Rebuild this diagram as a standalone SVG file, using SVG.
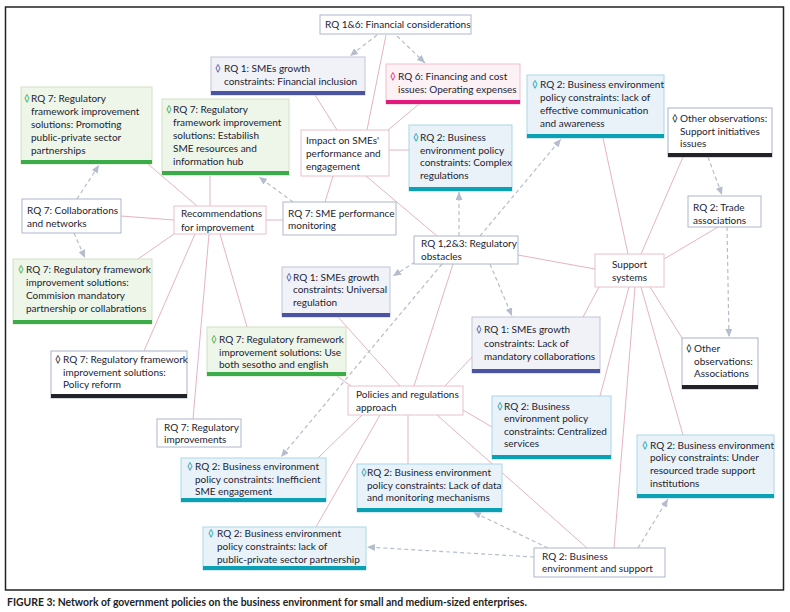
<svg xmlns="http://www.w3.org/2000/svg" width="790" height="612" viewBox="0 0 790 612">
<defs>
<marker id="ah" markerWidth="8" markerHeight="7" refX="8" refY="3.5" orient="auto" markerUnits="userSpaceOnUse"><path d="M0,0 L8,3.5 L0,7 z" fill="#b4bccd"/></marker>
<style>
text{font-family:Lato,"Liberation Sans",sans-serif;font-size:10px;fill:#1c1d33}
.cap{font-size:10.4px;font-weight:bold;fill:#222}
.plain{fill:#fff;stroke:#aeb6cc;stroke-width:1}
.pink{fill:#fff;stroke:#e9c0ce;stroke-width:1}
.rq1{fill:#f1f2f7;stroke:#c0c6dc;stroke-width:1}
.rq7{fill:#eef5e9;stroke:#cfe2c8;stroke-width:1}
.rq2{fill:#e8f2f8;stroke:#aad8ea;stroke-width:1}
.rq6{fill:#fcf1f5;stroke:#efbfd0;stroke-width:1}
.obs{fill:#fff;stroke:#aab2c6;stroke-width:1}
.b1{fill:#4b53a3}.b7{fill:#3aac48}.b2{fill:#0ba1b5}.b6{fill:#e3197b}.bo{fill:#222228}
.d1{fill:#4b53a3}.d7{fill:#3aac48}.d2{fill:#0ba1b5}.d6{fill:#e3197b}.do{fill:#222228}
.sl{stroke:#e6b3c3;stroke-width:1;fill:none}
.dl{stroke:#b5bdcd;stroke-width:1.2;stroke-dasharray:4 3;fill:none;marker-end:url(#ah)}
</style>
</defs>
<rect x="5.5" y="7" width="778" height="583" fill="#fff" stroke="#222" stroke-width="1.5"/>
<g id="connectors">
<line class="sl" x1="386" y1="35" x2="367" y2="130"/>
<line class="sl" x1="315" y1="95" x2="337" y2="130"/>
<line class="sl" x1="419" y1="104" x2="388" y2="130"/>
<line class="sl" x1="389" y1="150" x2="409" y2="150"/>
<line class="sl" x1="333" y1="176" x2="325" y2="202"/>
<line class="sl" x1="366" y1="176" x2="437" y2="236"/>
<line class="sl" x1="266" y1="220" x2="283" y2="220"/>
<line class="sl" x1="148" y1="164" x2="197" y2="206"/>
<line class="sl" x1="210" y1="175" x2="210" y2="206"/>
<line class="sl" x1="121" y1="216" x2="174" y2="220"/>
<line class="sl" x1="174" y1="234" x2="138" y2="259"/>
<line class="sl" x1="195" y1="234" x2="144" y2="351"/>
<line class="sl" x1="209" y1="234" x2="193" y2="419"/>
<line class="sl" x1="220" y1="234" x2="247" y2="327"/>
<line class="sl" x1="518" y1="255" x2="595" y2="269"/>
<line class="sl" x1="453" y1="264" x2="414" y2="386"/>
<line class="sl" x1="338" y1="317" x2="400" y2="386"/>
<line class="sl" x1="472" y1="357" x2="445" y2="386"/>
<line class="sl" x1="337" y1="376" x2="351" y2="386"/>
<line class="sl" x1="463" y1="410" x2="492" y2="427"/>
<line class="sl" x1="408" y1="415" x2="408" y2="464"/>
<line class="sl" x1="362" y1="415" x2="318" y2="458"/>
<line class="sl" x1="380" y1="415" x2="316" y2="527"/>
<line class="sl" x1="437" y1="415" x2="587" y2="548"/>
<line class="sl" x1="603" y1="138" x2="628" y2="254"/>
<line class="sl" x1="683" y1="157" x2="641" y2="254"/>
<line class="sl" x1="718" y1="227" x2="664" y2="259"/>
<line class="sl" x1="599" y1="287" x2="583" y2="317"/>
<line class="sl" x1="629" y1="287" x2="600" y2="396"/>
<line class="sl" x1="635" y1="287" x2="614" y2="548"/>
<line class="sl" x1="641" y1="287" x2="683" y2="435"/>
<line class="sl" x1="650" y1="287" x2="682" y2="338"/>
<line class="dl" x1="377" y1="35" x2="350" y2="56"/>
<line class="dl" x1="397" y1="36" x2="425" y2="63"/>
<line class="dl" x1="293" y1="202" x2="259" y2="177"/>
<line class="dl" x1="459" y1="236" x2="459" y2="192"/>
<line class="dl" x1="480" y1="236" x2="561" y2="139"/>
<line class="dl" x1="415" y1="262" x2="393" y2="276"/>
<line class="dl" x1="490" y1="264" x2="512" y2="316"/>
<line class="dl" x1="442" y1="264" x2="281" y2="457"/>
<line class="dl" x1="708" y1="157" x2="722" y2="195"/>
<line class="dl" x1="727" y1="227" x2="729" y2="337"/>
<line class="dl" x1="77" y1="199" x2="99" y2="165"/>
<line class="dl" x1="74" y1="233" x2="85" y2="258"/>
<line class="dl" x1="638" y1="548" x2="668" y2="499"/>
<line class="dl" x1="548" y1="548" x2="473" y2="512"/>
<line class="dl" x1="534" y1="557" x2="367" y2="547"/>
</g>
<g id="n-financial-considerations"><rect class="plain" x="320" y="15" width="151" height="19"/><text x="325" y="28">RQ 1&amp;6: Financial considerations</text></g>
<g id="n-rq1-financial-inclusion"><rect class="rq1" x="211" y="57" width="154" height="38"/><rect class="b1" x="211" y="91" width="154" height="4"/><text><tspan class="d1" x="215" y="72">◊</tspan><tspan x="224" y="72">RQ 1: SMEs growth</tspan><tspan x="224" y="85">constraints: Financial inclusion</tspan></text></g>
<g id="n-rq6-operating-expenses"><rect class="rq6" x="386" y="64" width="134" height="40"/><rect class="b6" x="386" y="100" width="134" height="4"/><text><tspan class="d6" x="390" y="80">◊</tspan><tspan x="398" y="80">RQ 6: Financing and cost</tspan><tspan x="398" y="93">issues: Operating expenses</tspan></text></g>
<g id="n-rq2-communication"><rect class="rq2" x="527" y="75" width="137" height="63"/><rect class="b2" x="527" y="134" width="137" height="4"/><text><tspan class="d2" x="532" y="88">◊</tspan><tspan x="540" y="88">RQ 2: Business environment</tspan><tspan x="540" y="101">policy constraints: lack of</tspan><tspan x="540" y="114">effective communication</tspan><tspan x="540" y="127">and awareness</tspan></text></g>
<g id="n-obs-support-initiatives"><rect class="obs" x="668" y="108" width="104" height="49"/><rect class="bo" x="668" y="153" width="104" height="4"/><text><tspan class="do" x="672" y="122">◊</tspan><tspan x="680" y="122">Other observations:</tspan><tspan x="680" y="135">Support initiatives</tspan><tspan x="680" y="147">issues</tspan></text></g>
<g id="n-rq7-promoting"><rect class="rq7" x="21" y="87" width="131" height="77"/><rect class="b7" x="21" y="160" width="131" height="4"/><text><tspan class="d7" x="24" y="102">◊</tspan><tspan x="31" y="102">RQ 7: Regulatory</tspan><tspan x="31" y="115">framework improvement</tspan><tspan x="31" y="128">solutions: Promoting</tspan><tspan x="31" y="141">public-private sector</tspan><tspan x="31" y="154">partnerships</tspan></text></g>
<g id="n-rq7-establish"><rect class="rq7" x="162" y="99" width="127" height="76"/><rect class="b7" x="162" y="171" width="127" height="4"/><text><tspan class="d7" x="166" y="113">◊</tspan><tspan x="173" y="113">RQ 7: Regulatory</tspan><tspan x="173" y="126">framework improvement</tspan><tspan x="173" y="139">solutions: Estabilish</tspan><tspan x="173" y="152">SME resources and</tspan><tspan x="173" y="165">information hub</tspan></text></g>
<g id="n-impact"><rect class="pink" x="301" y="130" width="88" height="46"/><text><tspan x="306" y="144">Impact on SMEs'</tspan><tspan x="306" y="157">performance and</tspan><tspan x="306" y="170">engagement</tspan></text></g>
<g id="n-rq2-complex"><rect class="rq2" x="409" y="125" width="103" height="66"/><rect class="b2" x="409" y="187" width="103" height="4"/><text><tspan class="d2" x="413" y="141">◊</tspan><tspan x="420" y="141">RQ 2: Business</tspan><tspan x="420" y="154">environment policy</tspan><tspan x="420" y="166">constraints: Complex</tspan><tspan x="420" y="179">regulations</tspan></text></g>
<g id="n-collaborations"><rect class="plain" x="22" y="199" width="99" height="34"/><text><tspan x="27" y="214">RQ 7: Collaborations</tspan><tspan x="27" y="227">and networks</tspan></text></g>
<g id="n-recommendations"><rect class="pink" x="174" y="206" width="92" height="28"/><text><tspan x="181" y="217">Recommendations</tspan><tspan x="181" y="231">for improvement</tspan></text></g>
<g id="n-performance-monitoring"><rect class="plain" x="283" y="202" width="113" height="33"/><text><tspan x="288" y="217">RQ 7: SME performance</tspan><tspan x="288" y="229">monitoring</tspan></text></g>
<g id="n-regulatory-obstacles"><rect class="plain" x="414" y="236" width="104" height="28"/><text><tspan x="421" y="247">RQ 1,2&amp;3: Regulatory</tspan><tspan x="421" y="260">obstacles</tspan></text></g>
<g id="n-trade-associations"><rect class="plain" x="688" y="196" width="73" height="31"/><text><tspan x="693" y="211">RQ 2: Trade</tspan><tspan x="693" y="224">associations</tspan></text></g>
<g id="n-support-systems"><rect class="pink" x="595" y="254" width="69" height="33"/><text text-anchor="middle"><tspan x="629.5" y="268">Support</tspan><tspan x="629.5" y="281">systems</tspan></text></g>
<g id="n-rq7-commision"><rect class="rq7" x="13" y="259" width="139" height="65"/><rect class="b7" x="13" y="320" width="139" height="4"/><text><tspan class="d7" x="18" y="273">◊</tspan><tspan x="26" y="273">RQ 7: Regulatory framework</tspan><tspan x="26" y="286">improvement solutions:</tspan><tspan x="26" y="299">Commision mandatory</tspan><tspan x="26" y="312">partnership or collabrations</tspan></text></g>
<g id="n-rq1-universal"><rect class="rq1" x="282" y="267" width="108" height="50"/><rect class="b1" x="282" y="313" width="108" height="4"/><text><tspan class="d1" x="286" y="281">◊</tspan><tspan x="293" y="281">RQ 1: SMEs growth</tspan><tspan x="293" y="293">constraints: Universal</tspan><tspan x="293" y="306">regulation</tspan></text></g>
<g id="n-rq7-sesotho"><rect class="rq7" x="207" y="327" width="139" height="49"/><rect class="b7" x="207" y="372" width="139" height="4"/><text><tspan class="d7" x="211" y="343">◊</tspan><tspan x="219" y="343">RQ 7: Regulatory framework</tspan><tspan x="219" y="356">improvement solutions: Use</tspan><tspan x="219" y="368">both sesotho and english</tspan></text></g>
<g id="n-rq1-mandatory"><rect class="rq1" x="472" y="317" width="128" height="56"/><rect class="b1" x="472" y="369" width="128" height="4"/><text><tspan class="d1" x="476" y="333">◊</tspan><tspan x="484" y="333">RQ 1: SMEs growth</tspan><tspan x="484" y="347">constraints: Lack of</tspan><tspan x="484" y="360">mandatory collaborations</tspan></text></g>
<g id="n-obs-associations"><rect class="obs" x="682" y="338" width="76" height="51"/><rect class="bo" x="682" y="385" width="76" height="4"/><text><tspan class="do" x="686" y="352">◊</tspan><tspan x="694" y="352">Other</tspan><tspan x="694" y="365">observations:</tspan><tspan x="694" y="377">Associations</tspan></text></g>
<g id="n-rq7-policy-reform"><rect class="obs" x="51" y="351" width="136" height="47"/><rect class="bo" x="51" y="394" width="136" height="4"/><text><tspan class="do" x="55" y="363">◊</tspan><tspan x="63" y="363">RQ 7: Regulatory framework</tspan><tspan x="63" y="376">improvement solutions:</tspan><tspan x="63" y="388">Policy reform</tspan></text></g>
<g id="n-policies-approach"><rect class="pink" x="348" y="386" width="115" height="29"/><text><tspan x="356" y="398">Policies and regulations</tspan><tspan x="356" y="411">approach</tspan></text></g>
<g id="n-rq2-centralized"><rect class="rq2" x="492" y="396" width="119" height="63"/><rect class="b2" x="492" y="455" width="119" height="4"/><text><tspan class="d2" x="497" y="410">◊</tspan><tspan x="504" y="410">RQ 2: Business</tspan><tspan x="504" y="422">environment policy</tspan><tspan x="504" y="435">constraints: Centralized</tspan><tspan x="504" y="447">services</tspan></text></g>
<g id="n-regulatory-improvements"><rect class="plain" x="157" y="419" width="84" height="28"/><text><tspan x="164" y="431">RQ 7: Regulatory</tspan><tspan x="164" y="443">improvements</tspan></text></g>
<g id="n-rq2-under-resourced"><rect class="rq2" x="637" y="435" width="137" height="63"/><rect class="b2" x="637" y="494" width="137" height="4"/><text><tspan class="d2" x="642" y="449">◊</tspan><tspan x="650" y="449">RQ 2: Business environment</tspan><tspan x="650" y="461">policy constraints: Under</tspan><tspan x="650" y="474">resourced trade support</tspan><tspan x="650" y="487">institutions</tspan></text></g>
<g id="n-rq2-inefficient"><rect class="rq2" x="181" y="458" width="145" height="44"/><rect class="b2" x="181" y="498" width="145" height="4"/><text><tspan class="d2" x="187" y="470">◊</tspan><tspan x="195" y="470">RQ 2: Business environment</tspan><tspan x="195" y="483">policy constraints: Inefficient</tspan><tspan x="195" y="495">SME engagement</tspan></text></g>
<g id="n-rq2-lack-data"><rect class="rq2" x="357" y="464" width="145" height="48"/><rect class="b2" x="357" y="508" width="145" height="4"/><text><tspan class="d2" x="361" y="476">◊</tspan><tspan x="367" y="476">RQ 2: Business environment</tspan><tspan x="367" y="489">policy constraints: Lack of data</tspan><tspan x="367" y="501">and monitoring mechanisms</tspan></text></g>
<g id="n-rq2-public-private"><rect class="rq2" x="203" y="527" width="163" height="43"/><rect class="b2" x="203" y="566" width="163" height="4"/><text><tspan class="d2" x="208" y="537">◊</tspan><tspan x="217" y="537">RQ 2: Business environment</tspan><tspan x="217" y="550">policy constraints: lack of</tspan><tspan x="217" y="563">public-private sector partnership</tspan></text></g>
<g id="n-business-environment-support"><rect class="plain" x="534" y="548" width="131" height="29"/><text><tspan x="542" y="560">RQ 2: Business</tspan><tspan x="542" y="572">environment and support</tspan></text></g>
<text class="cap" x="7" y="606">FIGURE 3: Network of government policies on the business environment for small and medium-sized enterprises.</text>
</svg>
